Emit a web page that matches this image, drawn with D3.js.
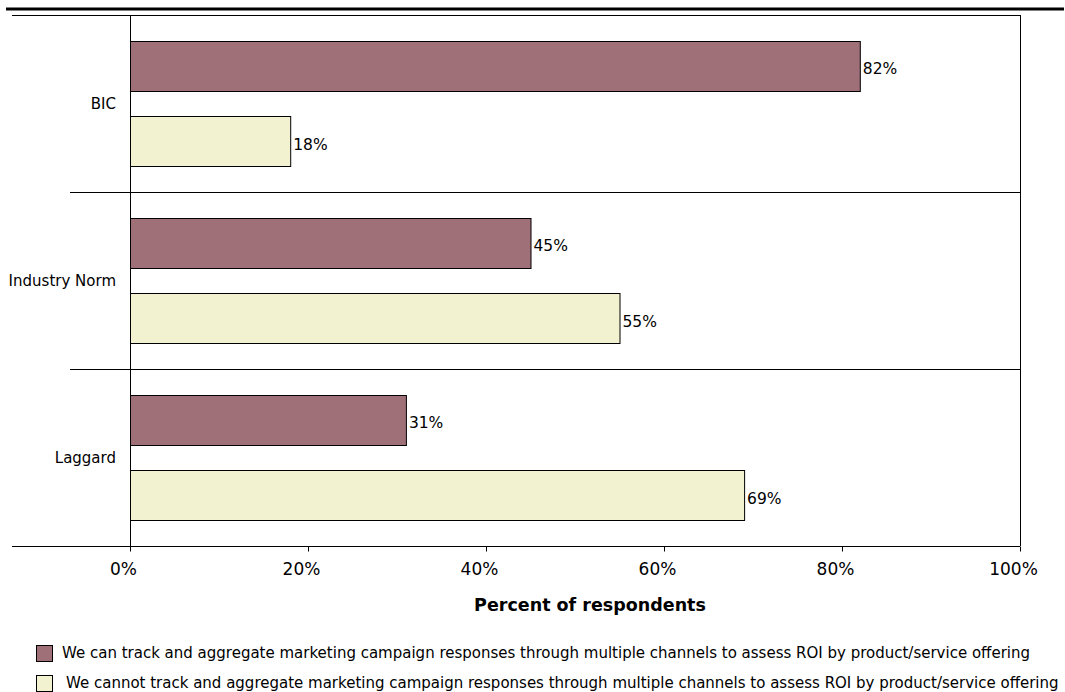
<!DOCTYPE html>
<html>
<head>
<meta charset="utf-8">
<script src="https://cdn.jsdelivr.net/npm/d3@7"></script>
<style>
  body { margin: 0; background: #fff; }
  svg { display: block; font-family: "DejaVu Sans", Verdana, sans-serif; }
</style>
</head>
<body>
<svg id="chart" width="1065" height="692"></svg>
<script>
// Survey groups and share of respondents per answer
const categories = ["BIC", "Industry Norm", "Laggard"];
const seriesNames = [
  "We can track and aggregate marketing campaign responses through multiple channels to assess ROI by product/service offering",
  "We cannot track and aggregate marketing campaign responses through multiple channels to assess ROI by product/service offering"
];
const canTrack = [82, 45, 31];
const cannotTrack = [18, 55, 69];
const xTicks = [0, 20, 40, 60, 80, 100];
const colors = ["#a07078", "#f2f2d0"];

const svg = d3.select("#chart");
const plotLeft = 130, plotRight = 1020, plotTop = 15, plotBottom = 546;

const x = d3.scaleLinear().domain([0, 100]).range([plotLeft, plotRight]);
const y = d3.scaleBand().domain(categories).range([plotTop, plotBottom]);
const inner = d3.scaleBand().domain([0, 1]).range([0, y.bandwidth()]).paddingInner(0.34).paddingOuter(0.345);

// heavy rule above the chart
svg.append("line").attr("x1", 6).attr("x2", 1064).attr("y1", 9).attr("y2", 9)
  .attr("stroke", "#000").attr("stroke-width", 3);

// frame: top and right edges
svg.append("line").attr("x1", 12).attr("x2", plotRight).attr("y1", plotTop + 0.5).attr("y2", plotTop + 0.5)
  .attr("stroke", "#000").attr("stroke-width", 1);
svg.append("line").attr("x1", plotRight + 0.5).attr("x2", plotRight + 0.5).attr("y1", plotTop).attr("y2", plotBottom)
  .attr("stroke", "#000").attr("stroke-width", 1);

// separators between groups
categories.slice(1).forEach(c => {
  svg.append("line").attr("x1", 70).attr("x2", plotRight).attr("y1", Math.round(y(c)) + 0.5).attr("y2", Math.round(y(c)) + 0.5)
    .attr("stroke", "#000").attr("stroke-width", 1);
});

const series = [canTrack, cannotTrack];
series.forEach((vals, si) => {
  const g = svg.append("g");
  g.selectAll("rect").data(vals).join("rect")
    .attr("x", plotLeft + 0.5)
    .attr("y", (d, i) => Math.round(y(categories[i]) + inner(si)) + 0.5)
    .attr("width", d => x(d) - plotLeft)
    .attr("height", Math.round(inner.bandwidth()))
    .attr("fill", colors[si])
    .attr("stroke", "#000").attr("stroke-width", 1);
  g.selectAll("text").data(vals).join("text")
    .attr("x", d => x(d) + 3)
    .attr("y", (d, i) => y(categories[i]) + inner(si) + inner.bandwidth() / 2 + 3)
    .attr("dy", "0.35em")
    .attr("font-size", 15.5)
    .text(d => d + "%");
});

// category labels
svg.append("g").selectAll("text").data(categories).join("text")
  .attr("x", 116)
  .attr("y", c => y(c) + y.bandwidth() / 2)
  .attr("dy", "0.35em")
  .attr("text-anchor", "end")
  .attr("font-size", 15)
  .text(d => d);

// left axis line
svg.append("line").attr("x1", plotLeft + 0.5).attr("x2", plotLeft + 0.5).attr("y1", plotTop).attr("y2", plotBottom + 5)
  .attr("stroke", "#000");

// bottom axis
const xAxis = d3.axisBottom(x).tickValues(xTicks).tickFormat(d => d + "%").tickSize(5).tickSizeOuter(0);
const ax = svg.append("g").attr("transform", `translate(0,${plotBottom + 0.5})`).call(xAxis);
ax.select(".domain").remove();
ax.selectAll("text").attr("font-size", 17).attr("font-family", "DejaVu Sans, sans-serif")
  .attr("fill", "#000").attr("dx", -7).attr("y", 28).attr("dy", "0");
svg.append("line").attr("x1", 12).attr("x2", plotRight).attr("y1", plotBottom + 0.5).attr("y2", plotBottom + 0.5).attr("stroke", "#000");

svg.append("text").attr("x", 590).attr("y", 611).attr("text-anchor", "middle")
  .attr("font-size", 17.5).attr("font-weight", "bold").text("Percent of respondents");

// legend
const lg = svg.append("g");
seriesNames.forEach((name, i) => {
  const yy = 645 + i * 30;
  lg.append("rect").attr("x", 36.5).attr("y", yy + 0.5).attr("width", 16).attr("height", 16)
    .attr("fill", colors[i]).attr("stroke", "#000");
  lg.append("text").attr("x", 62 + i * 4).attr("y", yy + 8).attr("dy", "0.35em")
    .attr("font-size", 15).text(name);
});
</script>
</body>
</html>
